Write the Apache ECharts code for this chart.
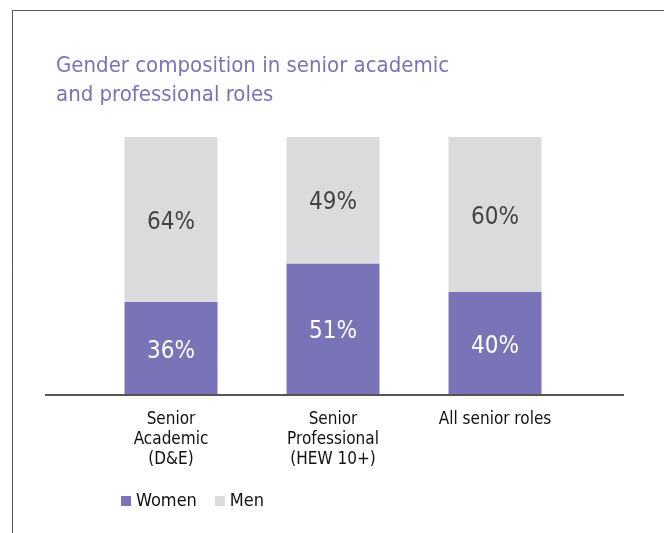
<!DOCTYPE html>
<html>
<head>
<meta charset="utf-8">
<script src="https://cdn.jsdelivr.net/npm/echarts@6/dist/echarts.min.js"></script>
<style>
  html, body { margin: 0; padding: 0; background: #fff; }
  #chart { width: 664px; height: 533px; }
</style>
</head>
<body>
<div id="chart"></div>
<script>
const categories = ['Senior\nAcademic\n(D&E)', 'Senior\nProfessional\n(HEW 10+)', 'All senior roles']
const women = [36, 51, 40]
const men = [64, 49, 60]

const narrow = '"Liberation Sans Narrow", "Arial Narrow", "DejaVu Sans Condensed", sans-serif'
const chart = echarts.init(document.getElementById('chart'))

chart.setOption({
  backgroundColor: '#ffffff',
  animation: false,
  title: {
    text: 'Gender composition in senior academic\nand professional roles',
    left: 51,
    top: 47,
    textStyle: {
      color: '#7a73b8',
      fontFamily: narrow,
      fontSize: 22,
      fontWeight: 'normal',
      lineHeight: 29
    }
  },
  legend: {
    data: ['Women', 'Men'],
    left: 116,
    top: 487,
    icon: 'rect',
    itemWidth: 10,
    itemHeight: 10,
    itemGap: 18,
    textStyle: {
      color: '#111',
      fontFamily: narrow,
      fontSize: 18
    }
  },
  grid: {
    left: 90,
    right: 88,
    top: 137,
    bottom: 138
  },
  xAxis: {
    type: 'category',
    data: categories,
    axisLine: { show: false },
    axisTick: { show: false },
    axisLabel: {
      color: '#111',
      fontFamily: narrow,
      fontSize: 17,
      lineHeight: 20,
      margin: 15,
      interval: 0
    }
  },
  yAxis: {
    type: 'value',
    min: 0,
    max: 100,
    show: false
  },
  series: [
    {
      name: 'Women',
      type: 'bar',
      stack: 'total',
      barWidth: 93,
      data: women,
      itemStyle: { color: '#7973b7' },
      label: {
        show: true,
        position: 'inside',
        offset: [0, 3],
        formatter: '{c}%',
        color: '#ffffff',
        fontFamily: narrow,
        fontSize: 24
      }
    },
    {
      name: 'Men',
      type: 'bar',
      stack: 'total',
      barWidth: 93,
      data: men,
      itemStyle: { color: '#dadbdd' },
      label: {
        show: true,
        position: 'inside',
        offset: [0, 3],
        formatter: '{c}%',
        color: '#444',
        fontFamily: narrow,
        fontSize: 24
      }
    }
  ],
  graphic: [
    // frame lines
    { type: 'line', shape: { x1: 12, y1: 10.5, x2: 664, y2: 10.5 }, style: { stroke: '#555', lineWidth: 1 } },
    { type: 'line', shape: { x1: 12.5, y1: 10, x2: 12.5, y2: 533 }, style: { stroke: '#555', lineWidth: 1 } },
    // baseline
    { type: 'line', shape: { x1: 45, y1: 395, x2: 624, y2: 395 }, style: { stroke: '#555', lineWidth: 2 }, z: 10 }
  ]
})
</script>
</body>
</html>
